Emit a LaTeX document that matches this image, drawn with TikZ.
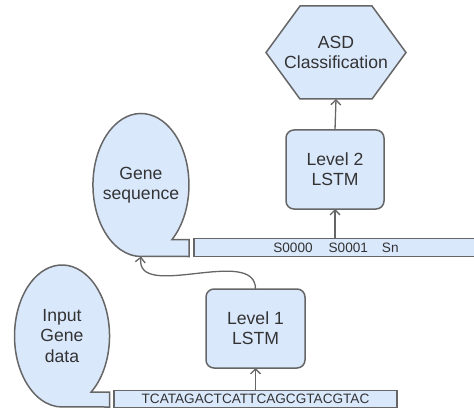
\documentclass[tikz,border=0pt]{standalone}
\usepackage{fontspec}
\setmainfont{Liberation Sans}
\usetikzlibrary{arrows.meta,shapes.geometric,calc,backgrounds}

\definecolor{boxfill}{HTML}{DAE8FC}
\definecolor{boxline}{HTML}{666666}
\definecolor{ink}{HTML}{333333}

\tikzset{
  shapeline/.style={draw=boxline, fill=boxfill, line width=1.5pt, line join=miter},
  bigtext/.style={text=ink, align=center, font=\fontsize{17.6}{20.2}\selectfont},
  smalltext/.style={text=ink, font=\fontsize{13.6}{15.6}\selectfont},
  lstm/.style={shapeline, bigtext, rounded corners=8pt, minimum width=99pt,
    minimum height=79pt, inner sep=0pt, outer sep=0pt},
  tape/.style={shapeline, smalltext, minimum height=17pt, inner sep=0pt, outer sep=0pt},
  holder/.style={bigtext, inner sep=0pt, outer sep=0pt},
  flow/.style={draw=boxline, line width=1.3pt,
    -{Straight Barb[length=5pt,width=10pt]}},
}

\begin{document}
\begin{tikzpicture}[x=1pt, y=1pt]
\useasboundingbox (0,0) rectangle (474,-409);

% sequential-data shape: input gene data
\draw[shapeline] (91.2,-392) arc[start angle=-52.1, end angle=270,
  x radius=47.5pt, y radius=71pt] -- (109.5,-407) -- (109.5,-392) -- cycle;
\node[holder, ellipse, minimum width=95pt, minimum height=142pt] (indata)
  at (62,-336) {Input\\Gene\\data};

% sequential-data shape: gene sequence
\draw[shapeline] (172,-239.5) arc[start angle=-49.7, end angle=270,
  x radius=48pt, y radius=71.5pt] -- (189,-256.5) -- (189,-239.5) -- cycle;
\node[holder, ellipse, minimum width=96pt, minimum height=143pt] (geneseq)
  at (141,-185) {Gene\\sequence};

% input strings
\node[tape, minimum width=283pt] (seq1) at (255.5,-399)
  {TCATAGACTCATTCAGCGTACGTAC};
\node[tape, minimum width=286pt, minimum height=18pt] (seq2) at (337,-247.5)
  {\hspace{-2pt}S0000\hspace{16pt}S0001\hspace{14pt}Sn};

% the two LSTM levels
\node[lstm] (lvl1) at (255.5,-328.5) {Level 1\\LSTM};
\node[lstm, minimum width=98pt] (lvl2) at (335,-169.5) {Level 2\\LSTM};

% output hexagon, outline drawn behind its label
\node[holder, minimum width=140pt, minimum height=93pt] (asd) at (336,-52.5)
  {ASD\\Classification};
\begin{pgfonlayer}{background}
\draw[shapeline] (asd.west) -- ($(asd.north west)+(34,0)$)
  -- ($(asd.north east)+(-34,0)$) -- (asd.east)
  -- ($(asd.south east)+(-34,0)$) -- ($(asd.south west)+(34,0)$) -- cycle;
\end{pgfonlayer}

% connectors
\draw[flow] (seq1.north -| lvl1.south) -- (lvl1.south);
\draw[flow] (lvl1.north) .. controls (255.5,-245) and (135,-302) .. (geneseq.south);
\draw[flow] (lvl2.south |- seq2.north) -- (lvl2.south);
\draw[flow] (lvl2.north) -- (asd.south);
\end{tikzpicture}
\end{document}
